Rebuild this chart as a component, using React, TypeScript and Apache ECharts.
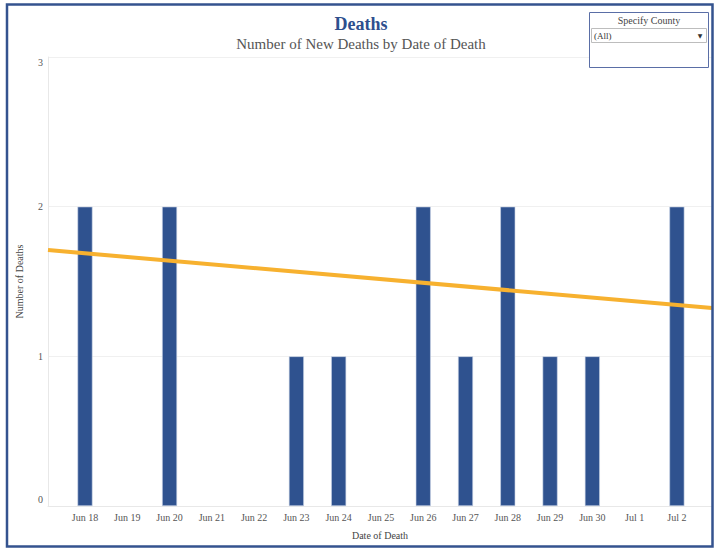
import React, { useEffect, useRef } from "react";
import * as echarts from "echarts";

// Daily new deaths by date of death
const dates = [
  "Jun 18", "Jun 19", "Jun 20", "Jun 21", "Jun 22", "Jun 23", "Jun 24", "Jun 25",
  "Jun 26", "Jun 27", "Jun 28", "Jun 29", "Jun 30", "Jul 1", "Jul 2",
];
const newDeaths = [2, 0, 2, 0, 0, 1, 1, 0, 2, 1, 2, 1, 1, 0, 2];

// Trend line: positions along the date axis (day index) and values at its two ends
const trendX = [-0.875, 14.83];
const trendY = [1.71, 1.323];

const yTicks = [0, 1, 2, 3];

const SERIF = "'Liberation Serif', 'Times New Roman', serif";

export default function App() {
  const ref = useRef<HTMLDivElement>(null);

  useEffect(() => {
    if (!ref.current) return;
    const chart = echarts.init(ref.current, null, { renderer: "svg" });

    const barData = newDeaths
      .map((v, i) => [i, v])
      .filter((d) => d[1] > 0);
    const trendData = trendX.map((x, i) => [x, trendY[i]]);
    const dayIdx = dates.map((_, i) => i);
    const yMin = yTicks[0];
    const yMax = yTicks[yTicks.length - 1];

    chart.setOption({
      animation: false,
      backgroundColor: "#ffffff",
      textStyle: { fontFamily: SERIF },
      title: [
        {
          text: "Deaths",
          left: 356,
          top: 10,
          textAlign: "center",
          textStyle: { fontFamily: SERIF, fontSize: 18, fontWeight: "bold", color: "#2d4f8e" },
        },
        {
          text: "Number of New Deaths by Date of Death",
          left: 356,
          top: 31,
          textAlign: "center",
          textStyle: { fontFamily: SERIF, fontSize: 15, fontWeight: "normal", color: "#555555" },
        },
      ],
      grid: { left: 48, right: 3, top: 57, bottom: 44, containLabel: false },
      xAxis: {
        type: "value",
        min: trendX[0],
        max: trendX[1],
        name: "Date of Death",
        nameLocation: "middle",
        nameGap: 24,
        nameTextStyle: { fontFamily: SERIF, fontSize: 10, color: "#444" },
        axisLine: { show: true, onZero: false, lineStyle: { color: "#e8e8e8" } },
        axisTick: { show: false },
        splitLine: { show: false },
        axisLabel: {
          customValues: dayIdx,
          formatter: (v: number) => dates[Math.round(v)] ?? "",
          fontFamily: SERIF,
          fontSize: 10,
          color: "#555",
          margin: 6,
        },
      },
      yAxis: {
        type: "value",
        min: yMin,
        max: yMax,
        interval: 1,
        name: "Number of Deaths",
        nameLocation: "middle",
        nameGap: 24,
        nameTextStyle: { fontFamily: SERIF, fontSize: 10, color: "#444" },
        axisLine: { show: true, onZero: false, lineStyle: { color: "#e8e8e8" } },
        axisTick: { show: false },
        splitLine: { show: true, lineStyle: { color: "#f0f0f0", width: 1 } },
        axisLabel: {
          fontFamily: SERIF,
          fontSize: 10,
          color: "#555",
          margin: 5,
          // keep the end labels inside the plot's height
          formatter: (v: number) =>
            v === yMax ? `{top|${v}}` : v === yMin ? `{bot|${v}}` : `${v}`,
          rich: {
            top: { fontFamily: SERIF, fontSize: 10, color: "#555", padding: [10, 0, 0, 0] },
            bot: { fontFamily: SERIF, fontSize: 10, color: "#555", padding: [0, 0, 14, 0] },
          },
        },
      },
      series: [
        {
          type: "bar",
          data: barData,
          barWidth: 15,
          itemStyle: { color: "#2f528f", borderColor: "#c9d3e6", borderWidth: 0.6 },
          z: 2,
        },
        {
          type: "line",
          data: trendData,
          symbol: "none",
          lineStyle: { color: "#f7b12f", width: 4 },
          z: 3,
        },
      ],
      graphic: [
        {
          type: "rect",
          shape: { x: 7, y: 4.5, width: 705.5, height: 542 },
          style: { fill: "none", stroke: "#34538f", lineWidth: 2.5 },
          z: 10,
        },
        {
          type: "rect",
          shape: { x: 589.5, y: 12.5, width: 119, height: 55 },
          style: { fill: "#ffffff", stroke: "#5a6ea6", lineWidth: 1 },
          z: 10,
        },
        {
          type: "text",
          x: 649,
          y: 20,
          style: {
            text: "Specify County",
            fontFamily: SERIF,
            fontSize: 10,
            fill: "#444",
            align: "center",
            verticalAlign: "middle",
          },
          z: 11,
        },
        {
          type: "rect",
          shape: { x: 591.5, y: 28.5, width: 115, height: 14 },
          style: { fill: "#ffffff", stroke: "#bdbdbd", lineWidth: 1 },
          z: 11,
        },
        {
          type: "text",
          x: 594,
          y: 35.5,
          style: {
            text: "(All)",
            fontFamily: SERIF,
            fontSize: 9,
            fill: "#333",
            align: "left",
            verticalAlign: "middle",
          },
          z: 12,
        },
        {
          type: "text",
          x: 700,
          y: 35.5,
          style: {
            text: "▼",
            fontFamily: "'DejaVu Sans', sans-serif",
            fontSize: 6,
            fill: "#333",
            align: "center",
            verticalAlign: "middle",
          },
          z: 12,
        },
      ],
    });

    return () => chart.dispose();
  }, []);

  return (
    <div
      ref={ref}
      style={{ position: "fixed", left: 0, top: 0, width: 715, height: 550 }}
    />
  );
}
